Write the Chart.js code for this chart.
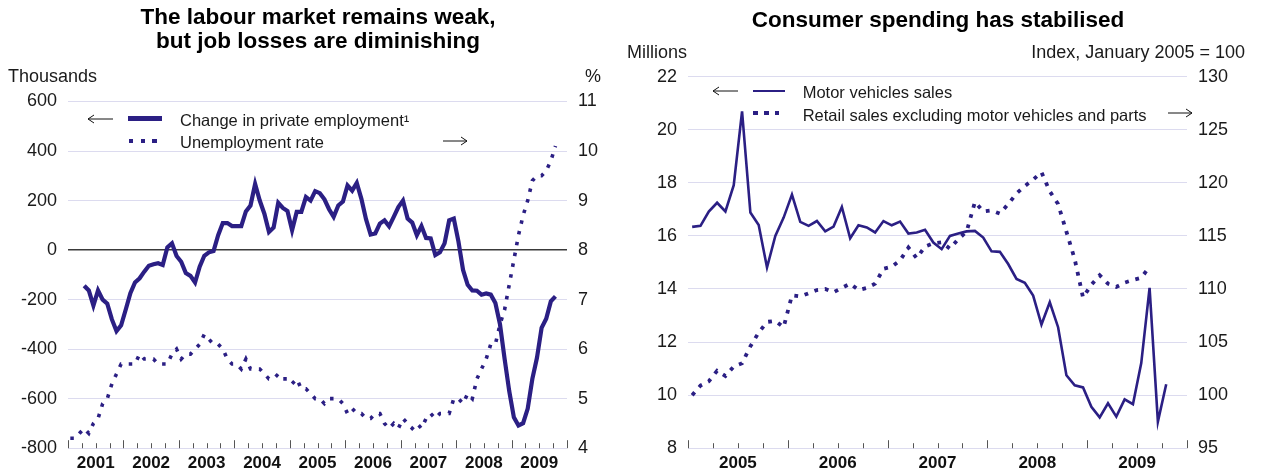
<!DOCTYPE html>
<html><head><meta charset="utf-8">
<script src="https://cdn.jsdelivr.net/npm/chart.js@4"></script>
<style>
body{margin:0;background:#fff;}
#stage{position:relative;width:1261px;height:470px;overflow:hidden;font-family:"Liberation Sans",Arial,Helvetica,sans-serif;color:#1a1a1a;}
.abs{position:absolute;white-space:nowrap;}
.title{font-weight:bold;font-size:22.5px;line-height:24px;text-align:center;color:#000;}
.unit{font-size:18px;line-height:20px;}
.leg{font-size:16.5px;line-height:20px;}
canvas{position:absolute;top:0;}
.dot{position:absolute;width:4.5px;height:4px;background:#2b1f84;}
</style></head>
<body><div id="stage">
<canvas id="c1" width="630" height="470" style="left:0;width:630px;height:470px"></canvas>
<canvas id="c2" width="631" height="470" style="left:630px;width:631px;height:470px"></canvas>

<div class="abs title" style="left:68px;width:500px;top:5px">The labour market remains weak,<br>but job losses are diminishing</div>
<div class="abs title" style="left:688px;width:500px;top:8px">Consumer spending has stabilised</div>

<div class="abs unit" style="left:8px;top:65.5px">Thousands</div>
<div class="abs unit" style="left:585px;top:66px">%</div>
<div class="abs unit" style="left:627px;top:42px">Millions</div>
<div class="abs unit" style="right:16px;top:42px">Index, January 2005 = 100</div>

<!-- left legend -->
<svg class="abs" style="left:86px;top:113px" width="28" height="12"><polyline points="27,6 2,6" stroke="#111" stroke-width="1" fill="none"/><polyline points="8,2 2,6 8,10" stroke="#111" stroke-width="1" fill="none"/></svg>
<div class="abs" style="left:128px;top:116.3px;width:34px;height:4.5px;background:#2b1f84"></div>
<div class="abs leg" style="left:180px;top:110px">Change in private employment¹</div>
<div class="dot" style="left:128.5px;top:139px"></div>
<div class="dot" style="left:140.5px;top:139px"></div>
<div class="dot" style="left:152px;top:139px"></div>
<div class="abs leg" style="left:180px;top:132px">Unemployment rate</div>
<svg class="abs" style="left:442px;top:135px" width="28" height="12"><polyline points="1,6 25,6" stroke="#111" stroke-width="1" fill="none"/><polyline points="19,2 25,6 19,10" stroke="#111" stroke-width="1" fill="none"/></svg>

<!-- right legend -->
<svg class="abs" style="left:711px;top:85px" width="28" height="12"><polyline points="27,6 2,6" stroke="#111" stroke-width="1" fill="none"/><polyline points="8,2 2,6 8,10" stroke="#111" stroke-width="1" fill="none"/></svg>
<div class="abs" style="left:753px;top:89.5px;width:32px;height:2.6px;background:#2b1f84"></div>
<div class="abs leg" style="left:802.7px;top:82.4px">Motor vehicles sales</div>
<div class="dot" style="left:753.3px;top:111px"></div>
<div class="dot" style="left:764px;top:111px"></div>
<div class="dot" style="left:774.7px;top:111px"></div>
<div class="abs leg" style="left:802.7px;top:104.7px">Retail sales excluding motor vehicles and parts</div>
<svg class="abs" style="left:1167px;top:107px" width="28" height="12"><polyline points="1,6 25,6" stroke="#111" stroke-width="1" fill="none"/><polyline points="19,2 25,6 19,10" stroke="#111" stroke-width="1" fill="none"/></svg>
</div>

<script>
// ---------------- data ----------------
// Left chart: monthly, month index 0 = January 2001
const leftYears = ['2001','2002','2003','2004','2005','2006','2007','2008','2009'];
const unemploymentStart = 0;   // Jan 2001
const unemploymentRate = [
  4.2,4.2,4.3,4.4,4.3,4.5,4.6,4.9,5.0,5.3,5.5,5.7,
  5.7,5.7,5.7,5.9,5.8,5.8,5.8,5.7,5.7,5.7,5.9,6.0,
  5.8,5.9,5.9,6.0,6.1,6.3,6.2,6.1,6.1,6.0,5.8,5.7,
  5.7,5.6,5.8,5.6,5.6,5.6,5.5,5.4,5.4,5.5,5.4,5.4,
  5.3,5.4,5.2,5.2,5.1,5.0,5.0,4.9,5.0,5.0,5.0,4.9,
  4.7,4.8,4.7,4.7,4.6,4.6,4.7,4.7,4.5,4.4,4.5,4.4,
  4.6,4.5,4.4,4.5,4.4,4.6,4.7,4.6,4.7,4.7,4.7,5.0,
  5.0,4.9,5.1,5.0,5.4,5.6,5.8,6.1,6.1,6.5,6.8,7.3,
  7.8,8.3,8.7,9.0,9.4,9.5,9.5,9.6,9.8,10.1
];
const employmentStart = 3;     // Apr 2001
const privateEmploymentChange = [
  -144,-163,-224,-163,-200,-216,-280,-327,-304,
  -240,-174,-131,-114,-87,-63,-57,-53,-60,11,27,-24,
  -47,-93,-104,-131,-67,-23,-9,-4,60,109,109,97,
  97,97,156,180,267,200,147,73,91,191,170,158,
  80,154,154,214,200,238,230,205,165,134,180,196,
  261,240,271,207,125,63,67,107,120,96,134,174,
  200,127,111,60,97,49,47,-20,-9,27,120,127,
  35,-80,-140,-163,-164,-180,-175,-180,-214,-300,-440,-570,
  -675,-708,-699,-640,-520,-435,-314,-277,-207,-187
];
const leftAxisRange = [-800, 600, 200];
const rightAxisRangeL = [4, 11, 1];

// Right chart: monthly, month index 0 = January 2005
const rightYears = ['2005','2006','2007','2008','2009'];
const motorStart = 0;
const motorVehicleSales = [
  16.34,16.38,16.92,17.25,16.92,17.91,20.69,16.88,16.41,14.81,16.0,16.69,
  17.56,16.53,16.38,16.56,16.17,16.35,17.09,15.91,16.40,16.32,16.13,16.56,
  16.40,16.54,16.09,16.13,16.23,15.75,15.50,16.0,16.09,16.17,16.19,15.94,
  15.42,15.40,14.94,14.38,14.23,13.75,12.66,13.50,12.56,10.75,10.37,10.29,
  9.56,9.16,9.69,9.19,9.84,9.66,11.21,14.04,9.0,10.41
];
const retailStart = 0;
const retailSalesExMotor = [
  100.0,100.9,101.3,102.3,101.8,102.7,103.0,104.6,105.9,106.9,107.0,106.4,
  109.4,109.3,109.6,109.9,110.0,109.7,110.1,110.5,109.9,110.1,110.5,111.9,
  112.1,112.7,113.9,112.9,114.0,114.3,114.4,113.8,114.7,115.4,118.2,117.3,
  117.4,117.1,118.0,119.0,119.7,120.3,121.0,119.2,118.0,115.4,112.8,109.2,
  110.4,111.3,110.5,110.2,110.6,110.85,111.05,112.1
];
const motorAxisRange = [8, 22, 2];
const retailAxisRange = [95, 130, 5];

// ---------------- rendering ----------------
const LINE = '#2b1f84';
const GRID = '#dcdbef';
const FONT = '"Liberation Sans", Arial, Helvetica, sans-serif';
const toPoints = (arr, start) => arr.map((v, i) => ({x: start + i + 0.5, y: v}));

const quarterTicks = {
  id: 'quarterTicks',
  beforeDatasetsDraw(chart) {
    const sc = chart.scales.x, ctx = chart.ctx, b = chart.chartArea.bottom;
    ctx.save();
    ctx.strokeStyle = '#555';
    ctx.lineWidth = 1;
    for (let v = sc.min; v <= sc.max; v += 3) {
      const px = Math.round(sc.getPixelForValue(v)) + 0.5;
      const len = (v % 12 === 0) ? 8 : 5;
      ctx.beginPath();
      ctx.moveTo(px, b);
      ctx.lineTo(px, b - len);
      ctx.stroke();
    }
    ctx.restore();
  }
};

function makeChart(id, cfg) {
  const yTick = {font: {family: FONT, size: 18}, color: '#1a1a1a', padding: 11};
  return new Chart(document.getElementById(id), {
    type: 'line',
    data: {datasets: cfg.datasets},
    plugins: [quarterTicks],
    options: {
      responsive: false,
      animation: false,
      devicePixelRatio: 1,
      layout: {padding: {top: cfg.top, left: 0, right: 0, bottom: 0}},
      plugins: {legend: {display: false}, tooltip: {enabled: false}},
      elements: {point: {radius: 0}, line: {tension: 0}},
      scales: {
        x: {
          type: 'linear', min: 0, max: cfg.months,
          grid: {display: false, drawTicks: false, tickLength: 0}, border: {display: false},
          ticks: {
            stepSize: 6, autoSkip: false, maxRotation: 0, padding: 4.5,
            font: {family: FONT, size: 17, weight: 'bold'}, color: '#111',
            callback: v => (v % 12 === 6) ? cfg.years[(v - 6) / 12] : ''
          },
          afterFit: s => { s.height = 20; }
        },
        y: {
          position: 'left', min: cfg.yl[0], max: cfg.yl[1],
          ticks: Object.assign({stepSize: cfg.yl[2]}, yTick),
          grid: {
            drawTicks: false,
            color: c => (cfg.zeroLine && c.tick && c.tick.value === 0) ? '#3a3a3a' : GRID,
            lineWidth: c => (cfg.zeroLine && c.tick && c.tick.value === 0) ? 1.6 : 1
          },
          border: {display: false},
          afterFit: s => { s.width = cfg.lw; }
        },
        y2: {
          position: 'right', min: cfg.yr[0], max: cfg.yr[1],
          ticks: Object.assign({stepSize: cfg.yr[2]}, yTick),
          grid: {drawOnChartArea: false, drawTicks: false},
          border: {display: false},
          afterFit: s => { s.width = cfg.rw; }
        }
      }
    }
  });
}

makeChart('c1', {
  top: 101.5, lw: 68, rw: 63, months: 108, years: leftYears, zeroLine: true,
  yl: leftAxisRange, yr: rightAxisRangeL,
  datasets: [
    {label: 'Change in private employment¹', data: toPoints(privateEmploymentChange, employmentStart),
     yAxisID: 'y', borderColor: LINE, borderWidth: 4.2, borderJoinStyle: 'miter'},
    {label: 'Unemployment rate', data: toPoints(unemploymentRate, unemploymentStart),
     yAxisID: 'y2', borderColor: LINE, borderWidth: 3.6, borderDash: [3.5, 7.5], borderCapStyle: 'butt'}
  ]
});

makeChart('c2', {
  top: 76.7, lw: 58, rw: 74, months: 60, years: rightYears, zeroLine: false,
  yl: motorAxisRange, yr: retailAxisRange,
  datasets: [
    {label: 'Motor vehicles sales', data: toPoints(motorVehicleSales, motorStart),
     yAxisID: 'y', borderColor: LINE, borderWidth: 2.6, borderJoinStyle: 'miter'},
    {label: 'Retail sales excluding motor vehicles and parts', data: toPoints(retailSalesExMotor, retailStart),
     yAxisID: 'y2', borderColor: LINE, borderWidth: 3.8, borderDash: [3.8, 6.8], borderCapStyle: 'butt'}
  ]
});
</script>
</body></html>
